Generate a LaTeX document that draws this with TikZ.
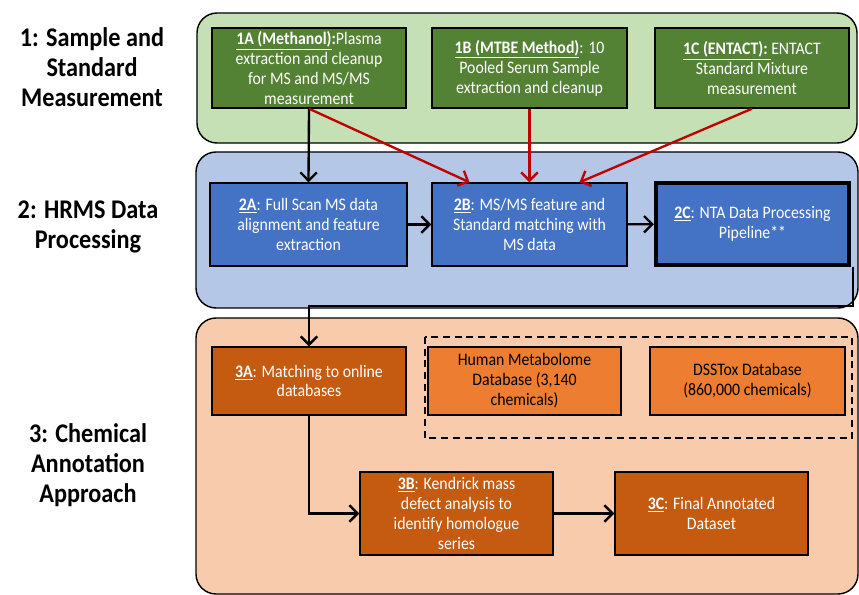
\documentclass[tikz,border=0pt]{standalone}
\usepackage{fontspec}
\setmainfont{Carlito}[FakeStretch=0.9]
\usetikzlibrary{arrows.meta}

\definecolor{panelgreen}{RGB}{197,224,180}
\definecolor{boxgreen}{RGB}{84,130,53}
\definecolor{panelblue}{RGB}{180,199,231}
\definecolor{boxblue}{RGB}{68,114,196}
\definecolor{panelorange}{RGB}{248,203,173}
\definecolor{boxbrown}{RGB}{197,90,17}
\definecolor{boxorange}{RGB}{237,125,49}
\definecolor{arrowred}{RGB}{192,0,0}

\tikzset{
  panel/.style={draw=black, line width=1.2pt, rounded corners=0.6cm},
  stepbox/.style={draw=black, line width=1.2pt, text=white, align=center,
    inner sep=1pt, minimum width=5.82cm, font=\fontsize{15}{17}\selectfont},
  dbbox/.style={stepbox, text=black, fill=boxorange},
  phase/.style={align=center, font=\fontsize{23}{25.5}\selectfont\bfseries},
  flow/.style={-{Straight Barb[length=7pt,width=14pt,line width=2pt]}, line width=2pt},
  redflow/.style={flow, draw=arrowred}
}

\begin{document}
\begin{tikzpicture}[x=0.03cm, y=-0.03cm]
    \useasboundingbox (0,0) rectangle (859,595);
    \clip (0,0) rectangle (859,595);

    % Fasce di sfondo
    \draw[panel, fill=panelgreen] (197,13) rectangle (857,143);
    \draw[panel, fill=panelblue] (196,152) rectangle (858,308);
    \draw[panel, fill=panelorange] (196,318) rectangle (858,594);

    % Titoli delle fasi
    \node[phase] (ph1) at (92,67) {1: Sample and\\Standard\\Measurement};
    \node[phase] (ph2) at (88,227) {2: HRMS Data\\Processing};
    \node[phase] (ph3) at (88,465) {3: Chemical\\Annotation\\Approach};

    % Fase 1
    \node[stepbox, fill=boxgreen, minimum height=2.4cm] (1A) at (309,68)
      {\underline{\textbf{1A (Methanol)}}\textbf{:}Plasma\\extraction and cleanup\\for MS and MS/MS\\measurement};
    \node[stepbox, fill=boxgreen, minimum width=5.85cm, minimum height=2.4cm] (1B) at (529.5,68)
      {\underline{\textbf{1B (MTBE Method)}}: 10\\Pooled Serum Sample\\extraction and cleanup};
    \node[stepbox, fill=boxgreen, minimum height=2.4cm] (1C) at (752,68)
      {\underline{\textbf{1C (ENTACT): }}ENTACT\\Standard Mixture\\measurement};

    % Fase 2
    \node[stepbox, fill=boxblue, minimum width=5.91cm, minimum height=2.49cm] (2A) at (308.5,224.5)
      {\underline{\textbf{2A}}: Full Scan MS data\\alignment and feature\\extraction};
    \node[stepbox, fill=boxblue, minimum width=5.85cm, minimum height=2.49cm] (2B) at (529.5,224.5)
      {\underline{\textbf{2B}}: MS/MS feature and\\Standard matching with\\MS data};
    \node[stepbox, fill=boxblue, line width=3.4pt, minimum width=5.8cm, minimum height=2.45cm] (2C) at (752.5,224)
      {\underline{\textbf{2C}}: NTA Data Processing\\Pipeline**};

    % Fase 3
    \draw[dashed, line width=1.2pt, dash pattern=on 6pt off 4pt] (425,337) rectangle (852,438);
    \node[stepbox, fill=boxbrown, minimum height=2.04cm] (3A) at (309,381)
      {\underline{\textbf{3A}}: Matching to online\\databases};
    \node[dbbox, minimum width=5.79cm, minimum height=2.04cm] (hmdb) at (524.5,381)
      {Human Metabolome\\Database (3,140\\chemicals)};
    \node[dbbox, minimum width=5.85cm, minimum height=2.04cm] (dsstox) at (747.5,381)
      {DSSTox Database\\(860,000 chemicals)};
    \node[stepbox, fill=boxbrown, minimum width=5.79cm, minimum height=2.49cm] (3B) at (456.5,513.5)
      {\underline{\textbf{3B}}: Kendrick mass\\defect analysis to\\identify homologue\\series};
    \node[stepbox, fill=boxbrown, minimum width=5.79cm, minimum height=2.49cm] (3C) at (711.5,513.5)
      {\underline{\textbf{3C}}: Final Annotated\\Dataset};

    % Frecce tra fase 1 e 2
    \draw[flow] (1A.south) -- (2A.north);
    \draw[redflow] (1A.south) -- ([xshift=-1.8cm]2B.north);
    \draw[redflow] (1B) -- (2B);
    \draw[redflow] (1C.south) -- ([xshift=1.5cm]2B.north);

    % Frecce in fase 2
    \draw[flow] (2A) -- (2B);
    \draw[flow] (2B) -- (2C);

    % Da 2C a 3A
    \coordinate (out2C) at (853,306);
    \coordinate (in3A) at (309,306);
    \draw[flow] (2C.south east -| out2C) -- (out2C) -- (in3A) -- (3A.north);

    % Frecce in fase 3
    \draw[flow] (3A.south) |- (3B.west);
    \draw[flow] (3B) -- (3C);
\end{tikzpicture}
\end{document}
